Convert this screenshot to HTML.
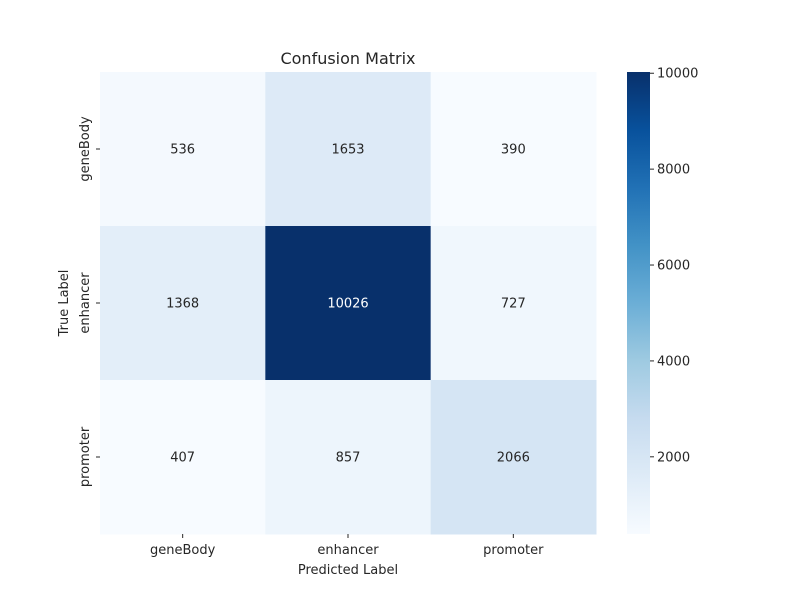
<!DOCTYPE html>
<html><head><meta charset="utf-8"><style>
body{margin:0;background:#fff}
svg text{font-family:"DejaVu Sans","Liberation Sans",sans-serif;fill:#262626}
</style></head><body>
<svg id="c" width="800" height="600" xmlns="http://www.w3.org/2000/svg">
<defs><linearGradient id="g" x1="0" y1="1" x2="0" y2="0"></linearGradient></defs>
<text x="348" y="64" text-anchor="middle" font-size="16">Confusion Matrix</text>
<text x="348" y="574" text-anchor="middle" font-size="13">Predicted Label</text>
<text transform="translate(68,303) rotate(-90)" text-anchor="middle" font-size="13">True Label</text>
</svg>
<script>
const labels=["geneBody","enhancer","promoter"];
const values=[[536,1653,390],[1368,10026,727],[407,857,2066]];
const cbTicks=[2000,4000,6000,8000,10000];
const svg=document.getElementById('c');const NS="http://www.w3.org/2000/svg";
const stops=["#f7fbff","#deebf7","#c6dbef","#9ecae1","#6baed6","#4292c6","#2171b5","#08519c","#08306b"];
const flat=values.flat();const vmin=Math.min(...flat),vmax=Math.max(...flat);
function hex(h){return[1,3,5].map(i=>parseInt(h.substr(i,2),16))}
function cmap(t){t=Math.max(0,Math.min(1,t));const p=t*8,i=Math.min(7,Math.floor(p)),f=p-i;const a=hex(stops[i]),b=hex(stops[i+1]);return`rgb(${a.map((v,k)=>Math.round(v+(b[k]-v)*f)).join(',')})`}
const X0=100,X1=596,Y0=72,Y1=534;const cw=(X1-X0)/labels.length,ch=(Y1-Y0)/labels.length;
function el(t,a){const e=document.createElementNS(NS,t);for(const k in a)e.setAttribute(k,a[k]);svg.appendChild(e);return e}
values.forEach((row,r)=>row.forEach((v,c)=>{
 const t=(v-vmin)/(vmax-vmin);
 const rc=el('rect',{x:X0+c*cw,y:Y0+r*ch,width:cw+0.5,height:ch+0.5,fill:cmap(t)});
 
 
 const tx=el('text',{x:X0+(c+.5)*cw,y:Y0+(r+.5)*ch+4.5,'text-anchor':'middle','font-size':'13'});
 tx.textContent=v;if(t>0.6)tx.style.fill='#fff';
 
 
}));
labels.forEach((l,i)=>{
 const x=X0+(i+.5)*cw;el('line',{x1:x,x2:x,y1:Y1,y2:Y1+4,stroke:'#262626'});
 const t=el('text',{x:x,y:Y1+20,'text-anchor':'middle','font-size':'13'});t.textContent=l;
 
 
 const y=Y0+(i+.5)*ch;el('line',{x1:X0-4,x2:X0,y1:y,y2:y,stroke:'#262626'});
 const u=el('text',{transform:`translate(${X0-11},${y}) rotate(-90)`,'text-anchor':'middle','font-size':'13'});u.textContent=l;
 
 
});
const g=document.getElementById('g');
stops.forEach((s,i)=>{const st=document.createElementNS(NS,'stop');st.setAttribute('offset',i/8);st.setAttribute('stop-color',s);g.appendChild(st)});
const CX=627,CW=23;
const cb=el('rect',{x:CX,y:Y0,width:CW,height:Y1-Y0,fill:'url(#g)'});


cbTicks.forEach(v=>{const y=Y1-(v-vmin)/(vmax-vmin)*(Y1-Y0);
 el('line',{x1:CX+CW,x2:CX+CW+4,y1:y,y2:y,stroke:'#262626'});
 const t=el('text',{x:CX+CW+7,y:y+4.5,'font-size':'13'});t.textContent=v;
 
 });
</script>
</body></html>
